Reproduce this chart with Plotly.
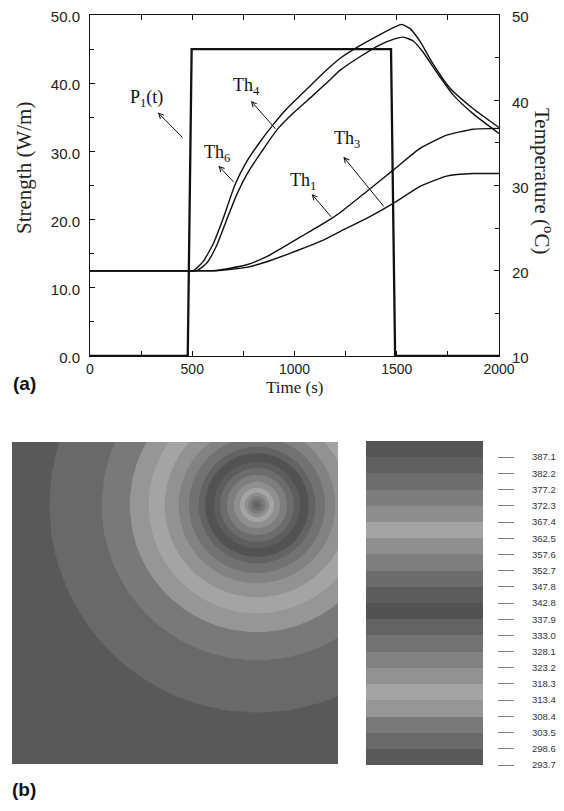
import numpy as np
import plotly.graph_objects as go

# ---------------- data: panel (a) ----------------
time_P1 = [0, 478, 497, 1472, 1492, 2000]
strength_P1 = [0, 0, 45, 45, 0, 0]

time_Th4 = [0, 450, 505, 554, 603, 652, 709, 766, 831, 888, 962, 1060, 1141, 1222, 1320, 1418, 1491, 1524, 1565, 1614, 1679, 1761, 1874, 2000]
temp_Th4 = [20.0, 20.0, 20.0, 21.1, 23.2, 26.2, 30.1, 32.8, 35.1, 36.9, 39.0, 41.3, 43.2, 44.9, 46.4, 47.7, 48.6, 48.9, 48.4, 46.9, 44.2, 41.4, 39.0, 36.8]

time_Th6 = [0, 460, 522, 571, 620, 668, 717, 774, 840, 913, 994, 1092, 1174, 1222, 1320, 1418, 1490, 1532, 1581, 1630, 1695, 1777, 1874, 2000]
temp_Th6 = [20.0, 20.0, 20.0, 20.9, 23.0, 25.95, 28.9, 31.6, 34.0, 36.5, 38.5, 40.6, 42.4, 43.5, 45.1, 46.5, 47.2, 47.4, 46.95, 45.6, 43.3, 40.6, 38.4, 36.1]

time_Th1 = [0, 540, 600, 685, 766, 864, 962, 1060, 1182, 1222, 1353, 1483, 1614, 1744, 1874, 2000]
temp_Th1 = [20.0, 20.0, 20.0, 20.3, 20.7, 21.65, 23.0, 24.4, 26.15, 26.8, 29.3, 31.8, 34.35, 35.9, 36.6, 36.7]

time_Th3 = [0, 560, 620, 766, 864, 962, 1060, 1141, 1222, 1353, 1483, 1614, 1744, 1874, 2000]
temp_Th3 = [20.0, 20.0, 20.0, 20.4, 21.06, 21.9, 22.8, 23.6, 24.6, 26.15, 27.9, 29.9, 31.1, 31.4, 31.4]

x_ticks = [0, 500, 1000, 1500, 2000]
left_ticks = [0, 10, 20, 30, 40, 50]
right_ticks = [10, 20, 30, 40, 50]

# ---------------- data: panel (b) ----------------
# colour-bar levels as printed (top to bottom)
levels = [387.1, 382.2, 377.2, 372.3, 367.4, 362.5, 357.6, 352.7, 347.8, 342.8,
          337.9, 333.0, 328.1, 323.2, 318.3, 313.4, 308.4, 303.5, 298.6, 293.7]
# grey of each band, top band first
band_grey = [85, 96, 110, 125, 142, 164, 143, 126, 108, 93,
             82, 99, 114, 130, 146, 164, 150, 121, 105, 89]
# radial temperature profile around the hot spot (plate units), read from the rings
ring_radius = [0, 3, 6, 9, 12, 17, 23, 30, 37, 43, 52, 58, 68, 78, 92, 108, 127, 155, 207, 420]
ring_temp = [385.5, 382.2, 377.2, 372.3, 367.4, 362.5, 357.6, 352.7, 347.8, 342.8,
             337.9, 333.0, 328.1, 323.2, 318.3, 313.4, 308.4, 303.5, 298.6, 290.0]
plate_w, plate_h = 326, 322
hot_spot = (245, 259)

# the page body adds an 8 px offset; size the figure so it ends at the window edge
OFF = 8
W, H = 564 - OFF, 811 - OFF
def fx(px): return (px - OFF) / W
def fy(py): return 1 - (py - OFF) / H

SERIF = "Liberation Serif, Times New Roman, serif"
SANS = "Liberation Sans, Arial, sans-serif"

fig = go.Figure()

# P1 (left axis)
fig.add_trace(go.Scatter(x=time_P1, y=strength_P1, mode="lines",
                         line=dict(color="#111", width=2.3), xaxis="x", yaxis="y",
                         hoverinfo="skip", showlegend=False))
for t, v in [(time_Th4, temp_Th4), (time_Th6, temp_Th6), (time_Th1, temp_Th1), (time_Th3, temp_Th3)]:
    fig.add_trace(go.Scatter(x=t, y=v, mode="lines",
                             line=dict(color="#111", width=1.4, shape="spline", smoothing=0.5),
                             xaxis="x", yaxis="y2", hoverinfo="skip", showlegend=False))

# contour field
gx = np.arange(0, plate_w + 3.5, 3.5)
gy = np.arange(0, plate_h + 3.5, 3.5)
GX, GY = np.meshgrid(gx, gy)
R = np.hypot(GX - hot_spot[0], GY - hot_spot[1])
Z = np.interp(R, ring_radius, ring_temp)

lv_sorted = sorted(levels)
step = levels[0] - levels[1]
grey_bottom_up = band_grey[::-1]
n = len(grey_bottom_up)
cs_contour = [[i / (n - 1), f"rgb({g},{g},{g})"] for i, g in enumerate(grey_bottom_up)]
fig.add_trace(go.Contour(
    x=gx, y=gy, z=Z, xaxis="x3", yaxis="y3",
    autocontour=False,
    contours=dict(start=lv_sorted[1], end=lv_sorted[-1], size=(lv_sorted[-1] - lv_sorted[1]) / (len(lv_sorted) - 2),
                  coloring="fill", showlines=False),
    line=dict(width=0), colorscale=cs_contour, showscale=False, hoverinfo="skip"))

# colour bar as a column heatmap
edges = lv_sorted + [lv_sorted[-1] + step]
mids = [(edges[i] + edges[i + 1]) / 2 for i in range(n)]
cs_bar = []
for i, g in enumerate(grey_bottom_up):
    c = f"rgb({g},{g},{g})"
    cs_bar.append([i / n, c])
    cs_bar.append([(i + 1) / n, c])
fig.add_trace(go.Heatmap(x=[0, 1], y=edges, z=[[m] for m in mids], xaxis="x4", yaxis="y4",
                         zmin=edges[0], zmax=edges[-1], colorscale=cs_bar, showscale=False,
                         hoverinfo="skip"))

tickfont_y = dict(family=SANS, size=15, color="#222")
fig.update_layout(
    template="none",
    width=W, height=H, autosize=False,
    margin=dict(l=0, r=0, t=0, b=0, pad=0, autoexpand=False),
    paper_bgcolor="white", plot_bgcolor="white",
    xaxis=dict(domain=[fx(90), fx(499)], range=[0, 2000], anchor="y", automargin=False,
               showline=True, linecolor="#111", linewidth=1, mirror="allticks",
               ticks="inside", ticklen=5, tickcolor="#111", tickvals=x_ticks,
               minor=dict(dtick=250, ticks="inside", ticklen=4, tickcolor="#111"),
               showgrid=False, zeroline=False, ticklabeloverflow="allow",
               tickfont=dict(family=SANS, size=14, color="#222")),
    yaxis=dict(domain=[fy(356), fy(15)], range=[0, 50], anchor="x", automargin=False,
               showline=True, linecolor="#111", linewidth=1,
               ticks="inside", ticklen=5, tickcolor="#111", tickvals=left_ticks,
               ticktext=[f"{v:.1f}" for v in left_ticks],
               minor=dict(dtick=5, ticks="inside", ticklen=4, tickcolor="#111"),
               showgrid=False, zeroline=False, tickfont=tickfont_y, ticklabelstandoff=6,
               ticklabeloverflow="allow", ticklabelshift=2),
    yaxis2=dict(overlaying="y", side="right", range=[10, 50], anchor="x", automargin=False,
                showline=True, linecolor="#111", linewidth=1,
                ticks="inside", ticklen=5, tickcolor="#111", tickvals=right_ticks,
                minor=dict(dtick=5, ticks="inside", ticklen=4, tickcolor="#111"),
                showgrid=False, zeroline=False, tickfont=tickfont_y, ticklabelstandoff=9,
                ticklabeloverflow="allow", ticklabelshift=2),
    xaxis3=dict(domain=[fx(12), fx(338)], range=[0, plate_w], anchor="y3", automargin=False,
                visible=False, showgrid=False, zeroline=False),
    yaxis3=dict(domain=[fy(764), fy(442)], range=[0, plate_h], anchor="x3", automargin=False,
                visible=False, showgrid=False, zeroline=False),
    xaxis4=dict(domain=[fx(366), fx(483)], range=[0, 1], anchor="y4", automargin=False,
                visible=False, showgrid=False, zeroline=False),
    yaxis4=dict(domain=[fy(765), fy(441)], range=[edges[0], edges[-1]], anchor="free", automargin=False,
                position=fx(497), side="right", showline=False, showgrid=False, zeroline=False,
                ticks="outside", ticklen=16, tickwidth=1, tickcolor="#808080",
                tickvals=levels, ticktext=[f"{v:.1f}" for v in levels], ticklabeloverflow="allow",
                tickfont=dict(family=SANS, size=9.5, color="#333"), ticklabelstandoff=16),
)

annots = [
    dict(text="Strength (W/m)", x=fx(24), y=fy(168), textangle=-90, font=dict(family=SERIF, size=21, color="#222")),
    dict(text="Temperature (<sup>o</sup>C)", x=fx(543), y=fy(181), textangle=90, font=dict(family=SERIF, size=21, color="#222")),
    dict(text="Time (s)", x=fx(294.5), y=fy(387), font=dict(family=SERIF, size=17, color="#222")),
    dict(text="<b>(a)</b>", x=fx(24), y=fy(383), font=dict(family=SANS, size=19, color="#111")),
    dict(text="<b>(b)</b>", x=fx(24), y=fy(789), font=dict(family=SANS, size=19, color="#111")),
]
for a in annots:
    a.update(xref="paper", yref="paper", showarrow=False, xanchor="center", yanchor="middle")
    fig.add_annotation(**a)

labels = [("P<sub>1</sub>(t)", 276, 37.8), ("Th<sub>4</sub>", 766, 39.5), ("Th<sub>6</sub>", 619, 29.7),
          ("Th<sub>1</sub>", 1043, 25.6), ("Th<sub>3</sub>", 1258, 31.7)]
for txt, tx, ty in labels:
    fig.add_annotation(text=txt, x=tx, y=ty, xref="x", yref="y", showarrow=False,
                       font=dict(family=SERIF, size=18, color="#111"))

arrows = [((332, 35.7), (460, 31.8)), ((787, 37.4), (913, 33.1)), ((628, 27.9), (709, 25.3)),
          ((1084, 23.75), (1185, 20.2)), ((1239, 29.2), (1443, 21.7))]
for (hx, hy), (tx, ty) in arrows:
    fig.add_annotation(text="", x=hx, y=hy, ax=tx, ay=ty, xref="x", yref="y", axref="x", ayref="y",
                       showarrow=True, arrowhead=5, arrowsize=1, arrowwidth=1, arrowcolor="#111",
                       standoff=0, startstandoff=0)

fig.write_html("out.html")
